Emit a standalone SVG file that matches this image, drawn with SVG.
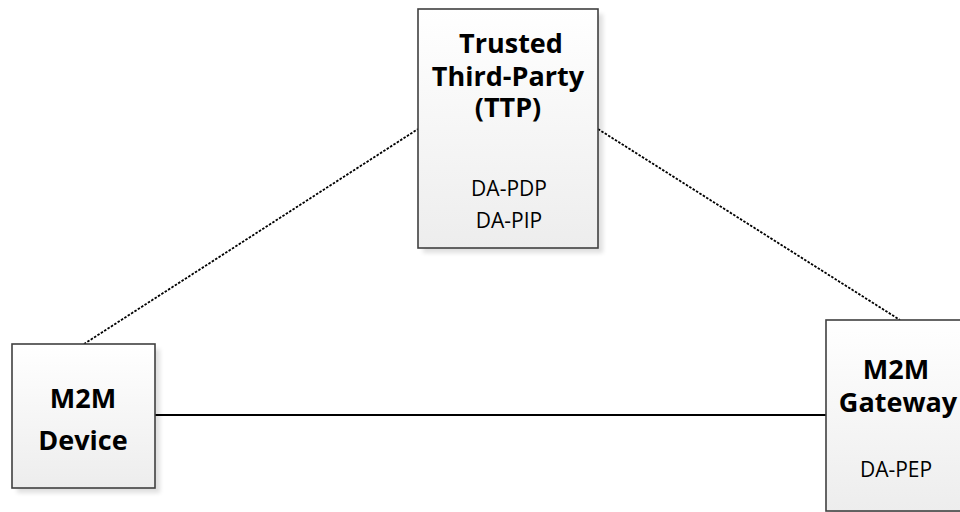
<svg xmlns="http://www.w3.org/2000/svg" width="960" height="512" viewBox="0 0 960 512">
<style>
.box{fill:url(#g);stroke:#404040;stroke-width:1.6}
.sh{fill:#000;opacity:0.12;filter:url(#blur)}
.t{font-family:"Open Sans","Noto Sans",sans-serif;font-weight:bold;font-size:27px;fill:#000;text-anchor:middle}
.s{font-family:"Open Sans","Noto Sans",sans-serif;font-size:21px;fill:#000;text-anchor:middle}
.dot{stroke:#000;stroke-width:1.8;stroke-dasharray:2.5,1.5;fill:none}
.sol{stroke:#000;stroke-width:2;fill:none}
</style>
<defs>
<linearGradient id="g" x1="0" y1="0" x2="0" y2="1">
<stop offset="0" stop-color="#ffffff"/>
<stop offset="1" stop-color="#ededed"/>
</linearGradient>
<filter id="blur" x="-10%" y="-10%" width="130%" height="130%"><feGaussianBlur stdDeviation="2"/></filter>
</defs>
<rect width="960" height="512" fill="#fff"/>
<g id="connectors">
<line class="dot" x1="84" y1="344" x2="418" y2="129"/>
<line class="dot" x1="598" y1="129" x2="900" y2="320"/>
<line class="sol" x1="155" y1="415" x2="826" y2="415"/>
</g>
<g id="ttp">
<rect class="sh" x="423" y="14" width="180" height="239"/>
<rect class="box" x="418" y="9" width="180" height="239"/>
<text class="t" x="511" y="53">Trusted</text>
<text class="t" x="508" y="86">Third-Party</text>
<text class="t" x="508" y="117">(TTP)</text>
<text class="s" x="509" y="196">DA-PDP</text>
<text class="s" x="509" y="228">DA-PIP</text>
</g>
<g id="device">
<rect class="sh" x="17" y="349" width="143" height="144"/>
<rect class="box" x="12" y="344" width="143" height="144"/>
<text class="t" x="83" y="408">M2M</text>
<text class="t" x="83" y="450">Device</text>
</g>
<g id="gateway">
<rect class="sh" x="831" y="325" width="143" height="191"/>
<rect class="box" x="826" y="320" width="143" height="191"/>
<text class="t" x="896" y="379">M2M</text>
<text class="t" x="898" y="412">Gateway</text>
<text class="s" x="896" y="477">DA-PEP</text>
</g>
</svg>
